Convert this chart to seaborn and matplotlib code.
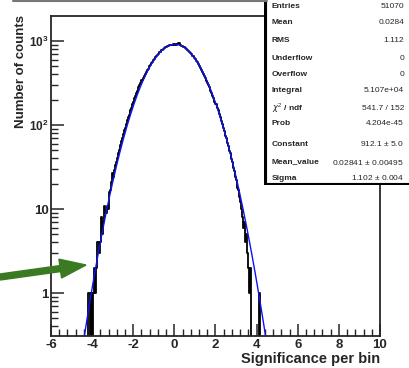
import matplotlib
matplotlib.use("Agg")
import matplotlib.pyplot as plt
from matplotlib.patches import FancyArrow, Rectangle
from matplotlib.lines import Line2D
from matplotlib.ticker import FixedLocator, FixedFormatter, MultipleLocator, LogLocator, NullFormatter
import numpy as np
import pandas as pd
import seaborn as sns

# histogram: 0.05 wide bins from -4.5 to 4.5, counts
bin_width = 0.05
bin_centers = np.round(-4.475 + bin_width * np.arange(180), 3)
counts_left = [
    0, 0, 0, 0, 0, 0, 1, 1, 0, 1,
    0, 1, 2, 1, 2, 4, 4, 3, 4, 8,
    5, 7, 11, 9, 11, 10, 16, 17, 21, 27,
    24, 29, 33, 36, 41, 47, 50, 58, 64, 70,
    79, 88, 93, 104, 114, 126, 133, 150, 161, 178,
    190, 209, 221, 243, 255, 281, 296, 318, 339, 358,
    384, 401, 428, 450, 470, 499, 521, 547, 566, 597,
    614, 646, 661, 690, 706, 733, 747, 775, 786, 812,
    822, 846, 853, 870, 876, 893, 889, 905, 899, 915,
]
counts_right = [
    908, 921, 903, 917, 958, 890, 884, 868, 860, 838,
    829, 805, 792, 766, 747, 721, 700, 672, 655, 624,
    606, 575, 556, 526, 508, 477, 458, 428, 409, 381,
    364, 337, 320, 296, 281, 256, 241, 220, 207, 188,
    176, 160, 149, 134, 124, 111, 103, 92, 85, 75,
    70, 61, 57, 49, 46, 39, 36, 31, 28, 24,
    22, 18, 17, 14, 12, 10, 8, 6, 7, 4,
    5, 3, 2, 1, 2, 0, 0, 0, 0, 0,
    0, 0, 1, 0, 0, 0, 0, 0, 0, 0,
]
counts = counts_left + counts_right

# gaussian fit parameters (from the stats box)
fit_constant = 912.1
fit_mean = 0.02841
fit_sigma = 1.102

stat_names = ["Entries", "Mean", "RMS", "Underflow", "Overflow", "Integral",
              r"$\chi^{2}$ / ndf", "Prob", "Constant", "Mean_value", "Sigma"]
stat_values = ["51070", "0.0284", "1.112", "0", "0", "5.107e+04", "541.7 / 152",
               "4.204e-45", "912.1 $\\pm$ 5.0", "0.02841 $\\pm$ 0.00495", "1.102 $\\pm$ 0.004"]


def main():
    sns.set_style("ticks")
    plt.rcParams["font.family"] = ["Liberation Sans", "DejaVu Sans"]
    plt.rcParams["axes.unicode_minus"] = False
    plt.rcParams["mathtext.fontset"] = "custom"
    plt.rcParams["mathtext.rm"] = "Liberation Sans"
    plt.rcParams["mathtext.bf"] = "Liberation Sans:bold"

    fig = plt.figure(figsize=(4.10, 3.68), dpi=100)
    ax = fig.add_axes([51 / 410, 1 - 336 / 368, 329 / 410, 320 / 368])

    df = pd.DataFrame({"x": bin_centers, "n": counts})
    sns.histplot(data=df, x="x", weights="n", binwidth=bin_width, binrange=(-4.5, 4.5),
                 element="step", fill=False, color="black", linewidth=1.3, ax=ax)

    xs = np.linspace(-4.8, 4.8, 400)
    ys = fit_constant * np.exp(-0.5 * ((xs - fit_mean) / fit_sigma) ** 2)
    sns.lineplot(x=xs, y=ys, color="#1010ff", linewidth=1.0, ax=ax)

    ax.set_yscale("log")
    ax.set_xlim(-6, 10)
    ax.set_ylim(0.308, 1985)

    ax.xaxis.set_major_locator(MultipleLocator(2))
    ax.xaxis.set_minor_locator(MultipleLocator(0.4))
    ax.yaxis.set_major_locator(FixedLocator([1, 10, 100, 1000]))
    ax.yaxis.set_major_formatter(FixedFormatter(["1", "10", r"$\mathbf{10^{2}}$", r"$\mathbf{10^{3}}$"]))
    ax.yaxis.set_minor_locator(LogLocator(base=10, subs=np.arange(2, 10)))
    ax.yaxis.set_minor_formatter(NullFormatter())

    ax.tick_params(which="major", direction="in", length=9, width=1.1, labelsize=9.5)
    ax.tick_params(axis="x", which="major", pad=2.5)
    ax.tick_params(axis="y", which="major", pad=1.5)
    ax.tick_params(which="minor", direction="in", length=5, width=1.0)
    for lab in ax.get_xticklabels() + ax.get_yticklabels():
        lab.set_fontweight("bold")
    for lab in ax.get_yticklabels()[2:]:
        lab.set_fontsize(8.5)
    for s in ax.spines.values():
        s.set_linewidth(1.3)
        s.set_visible(True)

    ax.set_xlabel("")
    ax.set_ylabel("")
    fig.text(380 / 410, 1 - 359 / 368, "Significance per bin", ha="right", va="center",
             fontsize=10.5, fontweight="bold")
    fig.text(21 / 410, 1 - 71 / 368, "Number of counts", ha="center", va="center",
             rotation=90, fontsize=9.5, fontweight="bold")

    # title-box edge at the top
    fig.add_artist(Line2D([13 / 410, 267 / 410], [1 - 1 / 368, 1 - 1 / 368],
                          transform=fig.transFigure, color="#777777", linewidth=1.5))

    # stats box
    fig.add_artist(Rectangle((264 / 410, 1 - 185 / 368), 0.5, 0.6, transform=fig.transFigure,
                             facecolor="black", edgecolor="none"))
    fig.add_artist(Rectangle((266 / 410, 1 - 183 / 368), 0.5, 0.6, transform=fig.transFigure,
                             facecolor="white", edgecolor="black", linewidth=0.8))
    row_y = [6, 22, 40, 59, 74, 90, 108, 124, 144, 162, 178]
    for name, val, yy in zip(stat_names, stat_values, row_y):
        fig.text(272 / 410, 1 - yy / 368, name, ha="left", va="center", fontsize=6,
                 fontweight="bold")
        fig.text(404 / 410, 1 - yy / 368, val, ha="right", va="center", fontsize=6)

    # green arrow
    arrow = FancyArrow(0, 368 - 277, 86, 12, width=6, head_width=19, head_length=26,
                       length_includes_head=True, transform=None,
                       facecolor="#3a7a22", edgecolor="#3a7a22")
    fig.add_artist(arrow)

    fig.savefig("out.png", dpi=100)


if __name__ == "__main__":
    main()
